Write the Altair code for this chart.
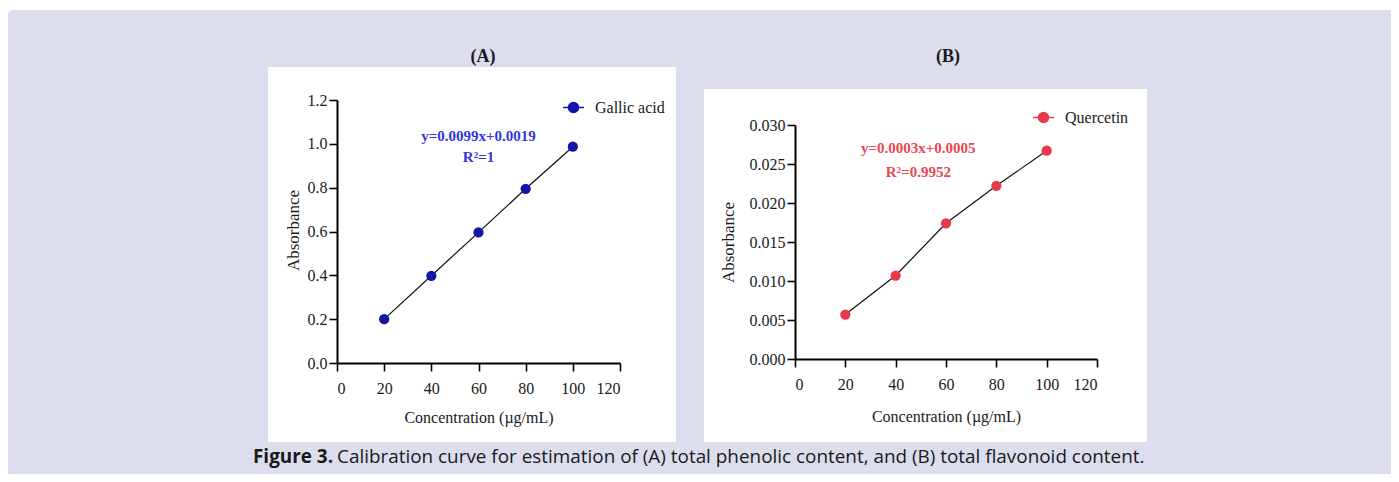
import altair as alt
import pandas as pd

# ---------------- data ----------------
conc = [20, 40, 60, 80, 100]
gallic_abs = [0.200, 0.398, 0.596, 0.795, 0.987]
quercetin_abs = [0.0057, 0.0107, 0.0174, 0.0222, 0.0267]
x_ticks = [0, 20, 40, 60, 80, 100, 120]
a_y_ticks = [0.0, 0.2, 0.4, 0.6, 0.8, 1.0, 1.2]
b_y_ticks = [0.000, 0.005, 0.010, 0.015, 0.020, 0.025, 0.030]
series_a = "Gallic acid"
series_b = "Quercetin"
eq_a = ["y=0.0099x+0.0019", "R²=1"]
eq_b = ["y=0.0003x+0.0005", "R²=0.9952"]
panel_titles = ["(A)", "(B)"]
x_title = "Concentration (µg/mL)"
y_title = "Absorbance"
caption_bold = "Figure 3."
caption_text = ("Calibration curve for estimation of (A) total phenolic content, "
                "and (B) total flavonoid content.")

# ---------------- styles ----------------
LAV = "#dcdeee"
SERIF = "Liberation Serif"
BLUE_PT = "#1414a8"
BLUE_TXT = "#3535dc"
RED_PT = "#e8394a"
RED_TXT = "#e84850"
TXT = "#1a1a1a"
LEG_PATH = ("M-1,0L1,0M-0.48,0A0.48,0.48,0,1,1,0.48,0"
            "A0.48,0.48,0,1,1,-0.48,0Z")

one = alt.Data(values=[{}])


def deco_rect(color, x, x2, y, y2, **kw):
    return alt.Chart(one).mark_rect(color=color, **kw).encode(
        x=alt.value(x), x2=alt.value(x2), y=alt.value(y), y2=alt.value(y2))


def deco_text(text, x, y, **kw):
    return alt.Chart(one).mark_text(text=text, **kw).encode(
        x=alt.value(x), y=alt.value(y))


def panel(values, series, pt_color, txt_color, eq, eq_x, eq_y, y_ticks,
          y_fmt, y_max, w, h, y_range, y_title_x, y_title_y, x_title_y,
          legend_xy, pre_layers, post_layers):
    df = pd.DataFrame({"conc": conc, "abs": values, "series": series})
    yscale = dict(domain=[0, y_max], nice=False, zero=True)
    if y_range is not None:
        yscale["range"] = y_range
    x_enc = alt.X("conc:Q",
                  scale=alt.Scale(domain=[0, 120], nice=False),
                  axis=alt.Axis(values=x_ticks, format="d", title=x_title,
                                tickSize=8, labelPadding=17,
                                labelBaseline="middle", zindex=2,
                                titleX=w / 2, titleY=x_title_y,
                                titleBaseline="middle"))
    y_enc = alt.Y("abs:Q", scale=alt.Scale(**yscale),
                  axis=alt.Axis(values=y_ticks, format=y_fmt, title=y_title,
                                tickSize=8, labelPadding=2, zindex=2,
                                titleFontSize=17,
                                titleX=y_title_x, titleY=y_title_y,
                                titleBaseline="middle"))
    base = alt.Chart(df).encode(x=x_enc, y=y_enc)
    line = base.mark_line(color="#111111", strokeWidth=1.2)
    pts = base.mark_point(filled=True, size=105, opacity=1).encode(
        color=alt.Color("series:N",
                        scale=alt.Scale(domain=[series], range=[pt_color]),
                        legend=alt.Legend(
                            title=None, orient="none",
                            legendX=legend_xy[0], legendY=legend_xy[1],
                            symbolType=LEG_PATH, symbolSize=441,
                            symbolStrokeColor=pt_color,
                            symbolStrokeWidth=1.5,
                            symbolFillColor=pt_color,
                            labelFont=SERIF, labelFontSize=16,
                            labelColor=TXT, labelOffset=10,
                            padding=0, zindex=2)))
    eq_df = pd.DataFrame({"txt": eq, "ex": [eq_x, eq_x], "ey": eq_y})
    eq_layer = alt.Chart(eq_df).mark_text(
        font=SERIF, fontSize=15, fontWeight="bold", color=txt_color,
        baseline="middle", align="center").encode(
        x=alt.X("ex:Q", scale=alt.Scale(domain=[0, 120], nice=False)),
        y=alt.Y("ey:Q", scale=alt.Scale(**yscale)),
        text="txt:N")
    layers = pre_layers + [line, pts, eq_layer] + post_layers
    return alt.layer(*layers).properties(width=w, height=h)


# Panel A  (plot origin on page: 337,100)
pre_a = [
    deco_rect(LAV, -329, 1054, -90, 374, cornerRadiusTopLeft=5),
    deco_rect("white", -69, 339, -33, 342),
    deco_text(panel_titles[0], 146, -43, font=SERIF, fontSize=18,
              fontWeight="bold", color=TXT, baseline="middle"),
]
post_a = [
    deco_text(caption_bold, -84, 357, font="Open Sans", fontSize=18.9,
              fontWeight="bold", color=TXT, align="left",
              baseline="middle"),
    deco_text(caption_text, 0, 357, font="Open Sans", fontSize=18.9,
              color=TXT, align="left", baseline="middle"),
]
chart_a = panel(gallic_abs, series_a, BLUE_PT, BLUE_TXT, eq_a, 60,
                [1.035, 0.94], a_y_ticks, ".1f", 1.2, 283, 263, None,
                -44, 130, 54, (225, -4), pre_a, post_a)

# Panel B  (plot origin on page: 795,100; axis top at 125)
pre_b = [
    deco_rect("white", -91, 352, -11, 342),
    deco_text(panel_titles[1], 153, -43, font=SERIF, fontSize=18,
              fontWeight="bold", color=TXT, baseline="middle"),
]
chart_b = panel(quercetin_abs, series_b, RED_PT, RED_TXT, eq_b, 49,
                [0.02705, 0.02397], b_y_ticks, ".3f", 0.030, 302, 259,
                [259, 25], -67, 142, 57, (237, 6), pre_b, [])

chart = alt.hconcat(
    chart_a, chart_b, spacing=175, bounds="flush",
    padding={"left": 0, "top": 2, "right": 0, "bottom": 0},
    background="white",
).resolve_scale(color="independent").resolve_legend(
    color="independent"
).configure_view(
    stroke=None
).configure_axis(
    grid=False, domainColor="black", domainWidth=2, tickColor="black",
    tickWidth=1.6, labelFont=SERIF, labelFontSize=16, labelColor=TXT,
    titleFont=SERIF, titleFontSize=16, titleFontWeight="normal",
    titleColor=TXT,
)

chart.save("out.html", embed_options={"renderer": "svg", "actions": False})
